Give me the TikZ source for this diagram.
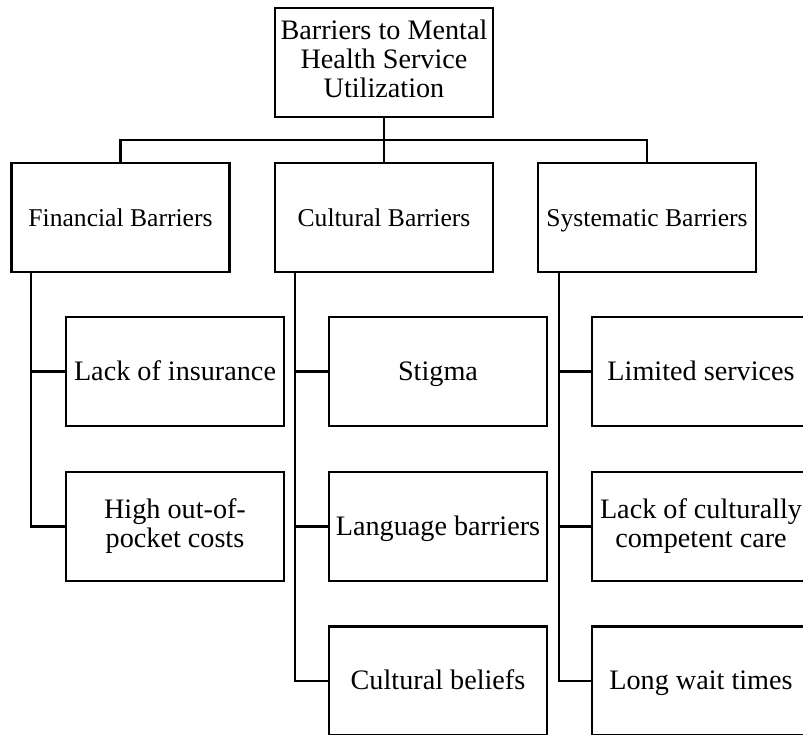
\documentclass[tikz,border=0pt]{standalone}
\usepackage{fontspec}
\setmainfont{Liberation Serif}
\usepackage{tikz}
\usetikzlibrary{positioning, calc}

\begin{document}
\begin{tikzpicture}[x=1pt, y=-1pt,
    box/.style={draw, line width=2.3pt, minimum width=218pt, minimum height=109pt,
        align=center, inner sep=2pt, font=\fontsize{28.2}{29.2}\selectfont,
        execute at begin node={\rule{0pt}{24pt}},
        execute at end node={\rule[-7pt]{0pt}{7pt}}},
    catbox/.style={box, font=\fontsize{25.6}{29}\selectfont},
    link/.style={line width=2.2pt}]
    
    % === CADRE ===
    \clip (0,0) rectangle (803,734);
    
    % === RACINE ===
    \node[box] (root) at (384, 62.5) {Barriers to Mental\\Health Service\\Utilization};
    
    % === CATÉGORIES ===
    \node[catbox] (fin) at (120.5, 217.5) {Financial Barriers};
    \node[catbox] (cul) at (384, 217.5) {Cultural Barriers};
    \node[catbox] (sys) at (647, 217.5) {Systematic Barriers};
    
    % Barre horizontale
    \coordinate (bus) at (384, 140);
    \draw[link] (root.south) -- (cul.north);
    \draw[link] (fin.north) -- (fin.north |- bus) -- (sys.north |- bus) -- (sys.north);
    
    % === FINANCIÈRES ===
    \node[box] (ins) at (175, 371.5) {Lack of insurance};
    \node[box] (cost) at (175, 526.5) {High out-of-\\pocket costs};
    \coordinate (fintrunk) at ([xshift=21pt]fin.south west);
    \draw[link] (fintrunk) |- (ins.west);
    \draw[link] (fintrunk) |- (cost.west);
    
    % === CULTURELLES ===
    \node[box] (stig) at (438, 371.5) {Stigma};
    \node[box] (lang) at (438, 526.5) {Language barriers};
    \node[box] (beli) at (438, 681) {Cultural beliefs};
    \coordinate (cultrunk) at ([xshift=21.5pt]cul.south west);
    \draw[link] (cultrunk) |- (stig.west);
    \draw[link] (cultrunk) |- (lang.west);
    \draw[link] (cultrunk) |- (beli.west);
    
    % === SYSTÉMIQUES ===
    \node[box] (serv) at (701, 371.5) {Limited services};
    \node[box] (care) at (701, 526.5) {Lack of culturally\\competent care};
    \node[box] (wait) at (701, 681) {Long wait times};
    \coordinate (systrunk) at ([xshift=22pt]sys.south west);
    \draw[link] (systrunk) |- (serv.west);
    \draw[link] (systrunk) |- (care.west);
    \draw[link] (systrunk) |- (wait.west);
    
\end{tikzpicture}
\end{document}
